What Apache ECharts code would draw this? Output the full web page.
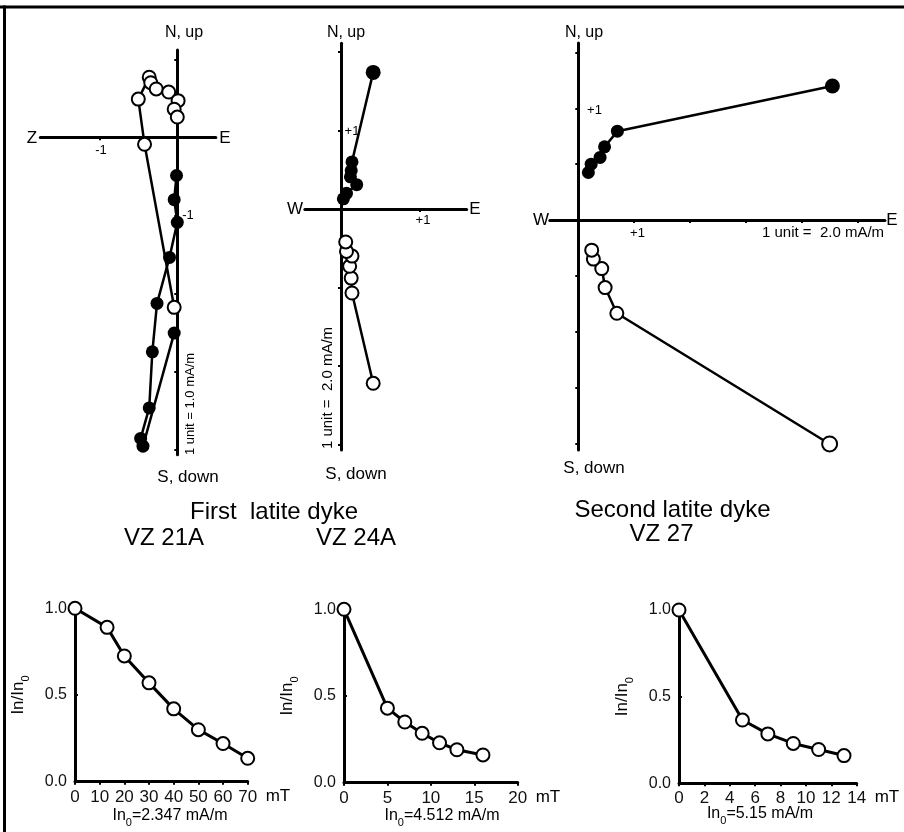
<!DOCTYPE html>
<html>
<head>
<meta charset="utf-8">
<title>Latite dykes AF demagnetization</title>
<script src="https://cdn.jsdelivr.net/npm/echarts@6.0.0/dist/echarts.min.js"></script>
<style>
  html, body { margin: 0; padding: 0; background: #fff; }
  #chart { width: 904px; height: 832px; }
</style>
</head>
<body>
<div id="chart"></div>
<script>
// ---- Zijderveld data (units of the plot, 1 unit = 1 tick) ----
// VZ 21A  (filled = horizontal, open = vertical)
const vz21aFillE = [-0.04, -0.44, -0.47, -0.36, -0.32, -0.26, -0.10, 0.0, -0.04, -0.01];
const vz21aFillN = [-2.51, -3.96, -3.86, -3.47, -2.75, -2.13, -1.54, -1.09, -0.80, -0.49];
const vz21aOpenE = [-0.04, -0.42, -0.50, -0.36, -0.34, -0.27, -0.11, 0.01, -0.04, 0.0];
const vz21aOpenUp = [-2.18, -0.09, 0.49, 0.77, 0.70, 0.62, 0.58, 0.47, 0.36, 0.26];
// VZ 24A
const vz24aFillE = [0.41, 0.14, 0.13, 0.12, 0.20, 0.07, 0.03];
const vz24aFillN = [1.74, 0.60, 0.49, 0.41, 0.31, 0.20, 0.13];
const vz24aOpenE = [0.41, 0.14, 0.13, 0.11, 0.14, 0.07, 0.06];
const vz24aOpenUp = [-2.22, -1.07, -0.88, -0.73, -0.60, -0.54, -0.42];
// VZ 27
const vz27FillE = [4.55, 0.70, 0.47, 0.39, 0.23, 0.18];
const vz27FillN = [2.40, 1.59, 1.31, 1.12, 1.00, 0.85];
const vz27OpenE = [4.50, 0.69, 0.48, 0.42, 0.27, 0.24];
const vz27OpenUp = [-4.01, -1.67, -1.21, -0.87, -0.70, -0.54];

// ---- demagnetization curves ----
const vz21aField = [0, 13, 20, 30, 40, 50, 60, 70];
const vz21aRatio = [1.0, 0.89, 0.725, 0.57, 0.42, 0.30, 0.22, 0.135];
const vz24aField = [0, 5, 7, 9, 11, 13, 16];
const vz24aRatio = [1.0, 0.43, 0.35, 0.285, 0.23, 0.19, 0.16];
const vz27Field = [0, 5, 7, 9, 11, 13];
const vz27Ratio = [1.0, 0.365, 0.285, 0.23, 0.195, 0.16];

const FONT = 'Liberation Sans, Arial, Helvetica, sans-serif';
const BLACK = '#000';

let chart = echarts.init(document.getElementById('chart'), null, { renderer: 'canvas' });

function pairs(xs, ys) {
  return xs.map((x, i) => [x, ys[i]]);
}

// grid placed so that data origin sits at (ox, oy), s px per unit
function zGrid(ox, oy, s, xr, yr) {
  return {
    left: ox + xr[0] * s,
    top: oy - yr[1] * s,
    width: (xr[1] - xr[0]) * s,
    height: (yr[1] - yr[0]) * s,
    containLabel: false
  };
}

function zAxis(gi, range, ticks) {
  return {
    type: 'value',
    gridIndex: gi,
    min: range[0],
    max: range[1],
    axisLine: { onZero: true, lineStyle: { color: BLACK, width: 3 } },
    axisTick: { show: true, customValues: ticks, length: 3, inside: false, lineStyle: { color: BLACK, width: 2 } },
    axisLabel: { show: false },
    splitLine: { show: false }
  };
}

function demagX(gi, max, step) {
  return {
    type: 'value', gridIndex: gi, min: 0, max: max, interval: step,
    name: 'mT', nameLocation: 'end', nameGap: 18,
    nameTextStyle: { color: BLACK, fontSize: 17, fontFamily: FONT, verticalAlign: 'top', padding: [6, 0, 0, 0] },
    axisLine: { lineStyle: { color: BLACK, width: 3 } },
    axisTick: { length: 3, lineStyle: { color: BLACK, width: 2 } },
    axisLabel: { color: '#111', fontSize: 17, fontFamily: FONT, margin: 7 },
    splitLine: { show: false }
  };
}

function demagY(gi) {
  return {
    type: 'value', gridIndex: gi, min: 0, max: 1, interval: 0.5,
    name: '{a|In/In}{s|0}', nameLocation: 'middle', nameGap: 44, nameRotate: 90,
    nameTextStyle: {
      rich: {
        a: { fontSize: 17, fontFamily: FONT, color: BLACK, verticalAlign: 'bottom', padding: [0, 0, 4, 0] },
        s: { fontSize: 11, fontFamily: FONT, color: BLACK, verticalAlign: 'bottom' }
      }
    },
    axisLine: { lineStyle: { color: BLACK, width: 3 } },
    axisTick: { length: 3, inside: true, lineStyle: { color: BLACK, width: 2 } },
    axisLabel: { color: '#111', fontSize: 16, fontFamily: FONT, margin: 8, formatter: v => v.toFixed(1) },
    splitLine: { show: false }
  };
}

function filled(gi, data) {
  return {
    type: 'line', xAxisIndex: gi, yAxisIndex: gi, data: data,
    symbol: 'circle', symbolSize: (v, p) => (p.dataIndex === 0 && gi > 0 ? 15 : 13),
    itemStyle: { color: BLACK },
    lineStyle: { color: BLACK, width: 2.5 },
    z: 3
  };
}

function open(gi, data, lw) {
  return {
    type: 'line', xAxisIndex: gi, yAxisIndex: gi, data: data,
    symbol: 'circle', symbolSize: (v, p) => (p.dataIndex === 0 && gi === 2 ? 15 : 13),
    itemStyle: { color: '#fff', borderColor: BLACK, borderWidth: 2 },
    lineStyle: { color: BLACK, width: lw || 2.5 },
    z: 4
  };
}

function txt(x, y, text, size, extra) {
  return Object.assign({
    type: 'text', x: x, y: y, z: 10,
    style: { text: text, fill: BLACK, fontSize: size, fontFamily: FONT, align: 'center', verticalAlign: 'middle' }
  }, extra || {});
}

function subTxt(x, y, value) {
  return {
    type: 'text', x: x, y: y, z: 10,
    style: {
      text: '{a|In}{s|0}{a|=' + value + '}',
      align: 'center', verticalAlign: 'middle',
      rich: {
        a: { fontSize: 16, fontFamily: FONT, fill: BLACK, verticalAlign: 'bottom', padding: [0, 0, 4, 0] },
        s: { fontSize: 11, fontFamily: FONT, fill: BLACK, verticalAlign: 'bottom' }
      }
    }
  };
}

const z1 = [[-1.756, 0.494], [-4.07, 1.12]];
const z2 = [[-0.46, 1.6], [-3.07, 2.11]];
const z3 = [[-0.51, 5.49], [-4.12, 3.17]];

const option = {
  backgroundColor: '#fff',
  animation: false,
  grid: [
    zGrid(177.3, 137.3, 78, z1[0], z1[1]),
    zGrid(341, 209, 78.5, z2[0], z2[1]),
    zGrid(578.3, 220, 55.85, z3[0], z3[1]),
    { left: 75, top: 608.3, width: 172.7, height: 173.4 },
    { left: 344, top: 609.3, width: 173.7, height: 173.4 },
    { left: 679, top: 610, width: 177.7, height: 173.3 }
  ],
  xAxis: [
    zAxis(0, z1[0], [-1]),
    zAxis(1, z2[0], [1]),
    zAxis(2, z3[0], [1, 2, 3, 4, 5]),
    demagX(3, 70, 10),
    demagX(4, 20, 5),
    demagX(5, 14, 2)
  ],
  yAxis: [
    zAxis(0, z1[1], [1, -1, -2, -3, -4]),
    zAxis(1, z2[1], [2, 1, -1, -2, -3]),
    zAxis(2, z3[1], [3, 2, 1, -1, -2, -3, -4]),
    demagY(3),
    demagY(4),
    demagY(5)
  ],
  series: [
    filled(0, pairs(vz21aFillE, vz21aFillN)),
    open(0, pairs(vz21aOpenE, vz21aOpenUp)),
    filled(1, pairs(vz24aFillE, vz24aFillN)),
    open(1, pairs(vz24aOpenE, vz24aOpenUp)),
    filled(2, pairs(vz27FillE, vz27FillN)),
    open(2, pairs(vz27OpenE, vz27OpenUp)),
    open(3, pairs(vz21aField, vz21aRatio), 3),
    open(4, pairs(vz24aField, vz24aRatio), 3),
    open(5, pairs(vz27Field, vz27Ratio), 3)
  ],
  graphic: [
    // frame
    { type: 'line', shape: { x1: 0, y1: 7, x2: 904, y2: 7 }, style: { stroke: BLACK, lineWidth: 3 } },
    { type: 'line', shape: { x1: 4.5, y1: 5.5, x2: 4.5, y2: 832 }, style: { stroke: BLACK, lineWidth: 3 } },
    // VZ 21A axes names and tick labels
    txt(184, 33, 'N, up', 16),
    txt(188, 477, 'S, down', 17),
    txt(32, 138, 'Z', 17),
    txt(225, 138, 'E', 17),
    txt(101, 150, '-1', 13),
    txt(188, 215, '-1', 13),
    txt(190, 404, '1 unit = 1.0 mA/m', 13, { rotation: Math.PI / 2 }),
    // VZ 24A
    txt(346, 33, 'N, up', 16),
    txt(356, 474, 'S, down', 17),
    txt(295, 209, 'W', 17),
    txt(475, 209, 'E', 17),
    txt(352, 131, '+1', 13),
    txt(423, 220, '+1', 13),
    txt(327.5, 388, '1 unit =  2.0 mA/m', 15, { rotation: Math.PI / 2 }),
    // VZ 27
    txt(584, 33, 'N, up', 16),
    txt(594, 468, 'S, down', 17),
    txt(541, 220, 'W', 17),
    txt(892, 220, 'E', 17),
    txt(637.5, 233, '+1', 13),
    txt(594.5, 110, '+1', 13),
    txt(823, 233, '1 unit =  2.0 mA/m', 15),
    // titles
    txt(274, 512, 'First  latite dyke', 24),
    txt(164, 538, 'VZ 21A', 24),
    txt(356, 538, 'VZ 24A', 24),
    txt(672.5, 510, 'Second latite dyke', 24),
    txt(661.5, 534, 'VZ 27', 24),
    // initial intensities
    subTxt(170, 818, '2.347 mA/m'),
    subTxt(442, 818, '4.512 mA/m'),
    subTxt(760, 816, '5.15 mA/m')
  ]
};

chart.setOption(option);
</script>
</body>
</html>
